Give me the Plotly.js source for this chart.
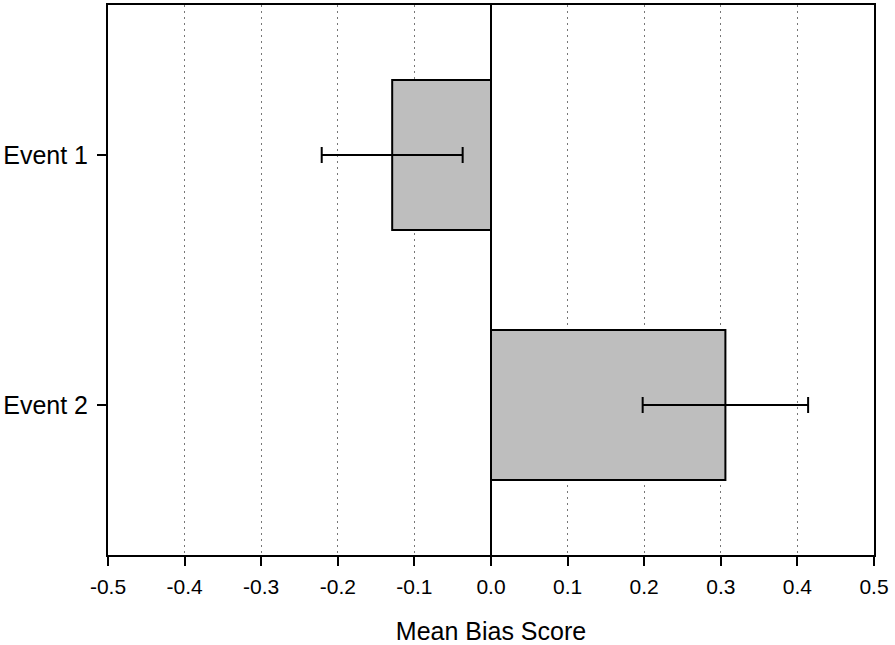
<!DOCTYPE html>
<html>
<head>
<meta charset="utf-8">
<script src="https://cdn.plot.ly/plotly-3.0.1.min.js"></script>
<style>html,body{margin:0;padding:0;background:#fff;}#chart{width:895px;height:645px;}</style>
</head>
<body>
<div id="chart"></div>
<script>
const categories = ["Event 1", "Event 2"];
const meanBias = [-0.129, 0.306];
const errorHalf = [0.092, 0.108];
const xTickVals = [-0.5, -0.4, -0.3, -0.2, -0.1, 0.0, 0.1, 0.2, 0.3, 0.4, 0.5];
const xTickText = ["-0.5", "-0.4", "-0.3", "-0.2", "-0.1", "0.0", "0.1", "0.2", "0.3", "0.4", "0.5"];

const trace = {
  type: 'bar',
  orientation: 'h',
  y: categories,
  x: meanBias,
  width: 0.6,
  marker: { color: '#bebebe', line: { color: '#000', width: 2 } },
  error_x: { type: 'data', array: errorHalf, visible: true, color: '#000', thickness: 2, width: 8 },
  hoverinfo: 'none'
};

const layout = {
  width: 895, height: 645,
  margin: { l: 108, r: 21, t: 5, b: 90 },
  paper_bgcolor: '#fff', plot_bgcolor: '#fff',
  font: { family: 'Liberation Sans, Arial, sans-serif', color: '#000' },
  showlegend: false,
  xaxis: {
    range: [-0.5, 0.5],
    tickvals: xTickVals, ticktext: xTickText,
    ticks: 'outside', ticklen: 9, tickwidth: 2, tickcolor: '#000',
    tickfont: { size: 21, color: '#000' },
    ticklabelstandoff: 3,
    showline: true, linecolor: '#000', linewidth: 2, mirror: true,
    showgrid: true, gridcolor: '#777', griddash: '1.5px,4.5px', gridwidth: 1.2,
    zeroline: true, zerolinecolor: '#000', zerolinewidth: 2,
    title: { text: 'Mean Bias Score', font: { size: 25, color: '#000' }, standoff: 29 }
  },
  yaxis: {
    type: 'category',
    categoryorder: 'array', categoryarray: categories,
    range: [1.6, -0.6],
    ticks: 'outside', ticklen: 9, tickwidth: 2, tickcolor: '#000',
    tickfont: { size: 25, color: '#000' },
    ticklabelstandoff: 4,
    showline: true, linecolor: '#000', linewidth: 2, mirror: true,
    showgrid: false, zeroline: false
  }
};

Plotly.newPlot('chart', [trace], layout, { displayModeBar: false, staticPlot: true });
</script>
</body>
</html>
